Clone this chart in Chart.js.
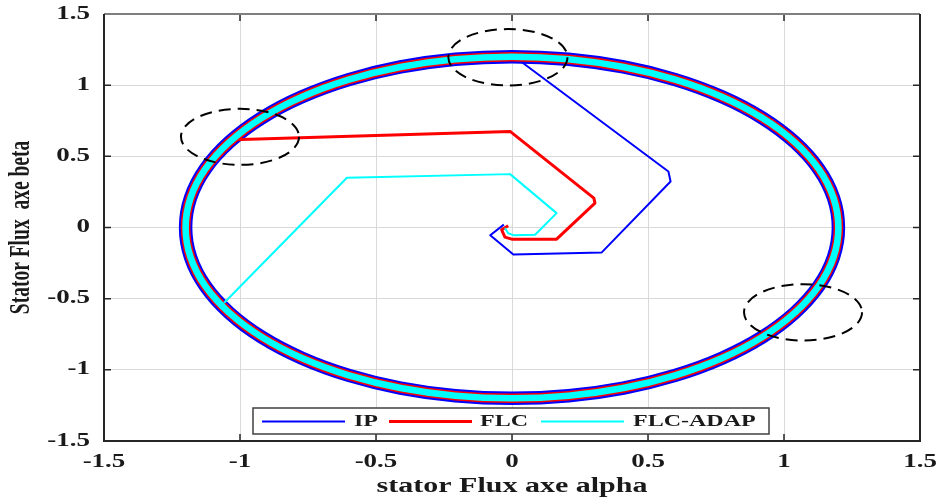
<!DOCTYPE html>
<html><head><meta charset="utf-8">
<script src="https://cdn.jsdelivr.net/npm/chart.js@4.4.0/dist/chart.umd.min.js"></script>
<style>html,body{margin:0;padding:0;background:#fff}canvas{display:block}</style>
</head><body>
<canvas id="c" width="941" height="504"></canvas>
<script>
// ---------- data ----------
const seriesNames = ['IP', 'FLC', 'FLC-ADAP'];
const seriesColors = ['#0000ff', '#ff0000', '#00ffff'];

const xTickValues = [-1.5, -1, -0.5, 0, 0.5, 1, 1.5];
const yTickValues = [-1.5, -1, -0.5, 0, 0.5, 1, 1.5];
const xTickLabels = ['-1.5', '-1', '-0.5', '0', '0.5', '1', '1.5'];
const yTickLabels = ['-1.5', '-1', '-0.5', '0', '0.5', '1', '1.5'];

// transient trajectories (alpha, beta)
const ipAlpha   = [-0.03, -0.08, 0.005, 0.33, 0.583, 0.575, 0.023];
const ipBeta    = [0.02, -0.055, -0.19, -0.175, 0.323, 0.393, 1.18];
const flcAlpha  = [-0.014, -0.038, -0.026, -0.001, 0.164, 0.305, 0.301, -0.007, -1.025, -1.04];
const flcBeta   = [0.012, -0.016, -0.068, -0.082, -0.082, 0.171, 0.206, 0.675, 0.616, 0.60];
const adapAlpha = [-0.026, -0.014, 0.005, 0.085, 0.164, -0.007, -0.607, -1.059];
const adapBeta  = [-0.004, -0.04, -0.054, -0.051, 0.101, 0.375, 0.35, -0.53];

// steady-state flux locus (common to the three controllers), one closed turn
const ringAlpha = [1.2, 1.182, 1.128, 1.039, 0.919, 0.771, 0.6, 0.41, 0.208, 0.0, -0.208, -0.41, -0.6, -0.771, -0.919, -1.039, -1.128, -1.182, -1.2, -1.182, -1.128, -1.039, -0.919, -0.771, -0.6, -0.41, -0.208, 0.0, 0.208, 0.41, 0.6, 0.771, 0.919, 1.039, 1.128, 1.182];
const ringBeta  = [0.0, 0.208, 0.41, 0.6, 0.771, 0.919, 1.039, 1.128, 1.182, 1.2, 1.182, 1.128, 1.039, 0.919, 0.771, 0.6, 0.41, 0.208, 0.0, -0.208, -0.41, -0.6, -0.771, -0.919, -1.039, -1.128, -1.182, -1.2, -1.182, -1.128, -1.039, -0.919, -0.771, -0.6, -0.41, -0.208];

// dashed highlight ellipses (data units)
const markCx = [-1.0, -0.015, 1.07];
const markCy = [0.637, 1.196, -0.596];
const markRx = [0.217, 0.219, 0.217];
const markRy = [0.197, 0.198, 0.198];

// ---------- helpers ----------
const zip = (a, b) => a.map((v, i) => ({x: v, y: b[i]}));
const FONT = '"Liberation Serif", "Times New Roman", serif';
const SX = 1.5;

function stretchText(ctx, text, x, y, align, size, rotate) {
  ctx.save();
  ctx.translate(x, y);
  ctx.scale(SX, 1);
  if (rotate) ctx.rotate(-Math.PI / 2);
  ctx.font = 'bold ' + size + 'px ' + FONT;
  ctx.textAlign = align;
  ctx.textBaseline = 'middle';
  ctx.fillStyle = '#1a1a1a';
  ctx.fillText(text, 0, 0);
  ctx.restore();
}

const decor = {
  id: 'decor',
  afterDatasetUpdate(chart, args) {
    const ds = chart.data.datasets[args.index];
    if (ds.closedLoop && args.meta.dataset) {
      args.meta.dataset._loop = true;
      args.meta.dataset._fullLoop = true;
    }
  },
  afterDatasetsDraw(chart) {
    const {ctx, scales: {x, y}} = chart;
    ctx.save();
    ctx.setLineDash([12, 7]);
    ctx.lineWidth = 2;
    ctx.strokeStyle = '#000';
    for (let i = 0; i < markCx.length; i++) {
      const cx = x.getPixelForValue(markCx[i]);
      const cy = y.getPixelForValue(markCy[i]);
      const rx = Math.abs(x.getPixelForValue(markCx[i] + markRx[i]) - cx);
      const ry = Math.abs(y.getPixelForValue(markCy[i] + markRy[i]) - cy);
      ctx.beginPath();
      ctx.ellipse(cx, cy, rx, ry, 0, 0, Math.PI * 2);
      ctx.stroke();
    }
    ctx.restore();
  },
  afterDraw(chart) {
    const {ctx, chartArea: a, scales: {x, y}} = chart;
    ctx.save();
    ctx.strokeStyle = '#262626';
    ctx.lineWidth = 1.5;
    const TL = 7;
    xTickValues.forEach(v => {
      const px = x.getPixelForValue(v);
      ctx.beginPath();
      ctx.moveTo(px, a.bottom); ctx.lineTo(px, a.bottom - TL);
      ctx.moveTo(px, a.top); ctx.lineTo(px, a.top + TL);
      ctx.stroke();
    });
    yTickValues.forEach(v => {
      const py = y.getPixelForValue(v);
      ctx.beginPath();
      ctx.moveTo(a.left, py); ctx.lineTo(a.left + TL, py);
      ctx.moveTo(a.right, py); ctx.lineTo(a.right - TL, py);
      ctx.stroke();
    });
    ctx.lineWidth = 2;
    ctx.strokeStyle = '#7f7f7f';
    ctx.beginPath(); ctx.moveTo(a.left, a.top); ctx.lineTo(a.right, a.top); ctx.stroke();
    ctx.strokeStyle = '#262626';
    ctx.beginPath();
    ctx.moveTo(a.right, a.top); ctx.lineTo(a.right, a.bottom);
    ctx.lineTo(a.left, a.bottom); ctx.lineTo(a.left, a.top);
    ctx.stroke();
    ctx.restore();

    xTickValues.forEach((v, i) => stretchText(ctx, xTickLabels[i], x.getPixelForValue(v), a.bottom + 21, 'center', 18));
    yTickValues.forEach((v, i) => stretchText(ctx, yTickLabels[i], a.left - 14, y.getPixelForValue(v), 'right', 18));
    stretchText(ctx, 'stator Flux axe alpha', (a.left + a.right) / 2, a.bottom + 46, 'center', 20);
    stretchText(ctx, 'Stator Flux  axe beta', 21, (a.top + a.bottom) / 2, 'center', 19.5, true);

    ctx.save();
    ctx.fillStyle = '#fff';
    ctx.fillRect(253, 408, 516, 26);
    ctx.strokeStyle = '#404040';
    ctx.lineWidth = 1.5;
    ctx.strokeRect(253, 408, 516, 26);
    const lx = [262, 389, 541];
    const lw = [2, 3, 2];
    for (let i = 0; i < 3; i++) {
      ctx.strokeStyle = seriesColors[i];
      ctx.lineWidth = lw[i];
      ctx.beginPath(); ctx.moveTo(lx[i], 421.5); ctx.lineTo(lx[i] + 83, 421.5); ctx.stroke();
    }
    ctx.restore();
    const tx = [354, 480, 633];
    for (let i = 0; i < 3; i++) stretchText(ctx, seriesNames[i], tx[i], 422, 'left', 16);
  }
};

const ringWidths = [13.5, 9.6, 6.6];
const transWidths = [2, 3, 2];
const transData = [zip(ipAlpha, ipBeta), zip(flcAlpha, flcBeta), zip(adapAlpha, adapBeta)];
const datasets = [];
for (let i = 0; i < 3; i++) {
  datasets.push({
    label: seriesNames[i],
    data: transData[i],
    borderColor: seriesColors[i],
    borderWidth: transWidths[i],
    borderJoinStyle: 'round',
    showLine: true, pointRadius: 0, tension: 0,
    order: 3 - i
  });
  datasets.push({
    label: seriesNames[i] + ' steady',
    data: zip(ringAlpha, ringBeta),
    closedLoop: true,
    borderColor: seriesColors[i],
    borderWidth: ringWidths[i],
    borderJoinStyle: 'round',
    showLine: true, pointRadius: 0, tension: 0.4,
    order: 3 - i
  });
}

const axisCommon = (ticksArr) => ({
  type: 'linear', min: -1.5, max: 1.5,
  ticks: {display: false},
  grid: {color: '#d9d9d9', lineWidth: 1, drawTicks: false},
  border: {display: false},
  afterBuildTicks: s => { s.ticks = ticksArr.map(v => ({value: v})); }
});

new Chart(document.getElementById('c'), {
  type: 'scatter',
  data: {datasets},
  options: {
    responsive: false, animation: false, devicePixelRatio: 1,
    layout: {padding: {left: 104, right: 21, top: 14, bottom: 63}},
    plugins: {legend: {display: false}, tooltip: {enabled: false}},
    scales: {
      x: Object.assign(axisCommon(xTickValues), {afterFit: s => { s.height = 0; }}),
      y: Object.assign(axisCommon(yTickValues), {afterFit: s => { s.width = 0; }})
    }
  },
  plugins: [decor]
});
</script>
</body></html>
